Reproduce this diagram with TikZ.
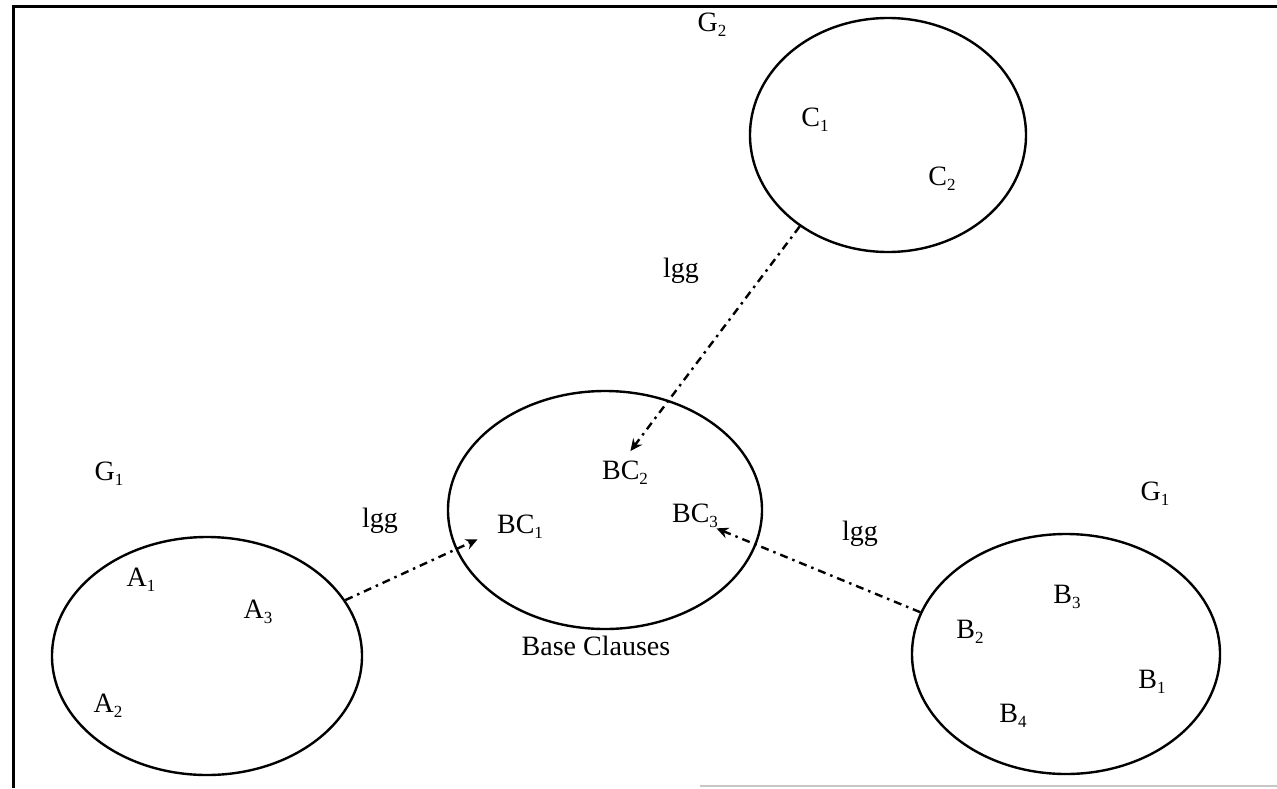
\documentclass[tikz,border=0pt]{standalone}
\usepackage{fontspec}
\setmainfont{Liberation Serif}
\usetikzlibrary{shapes.geometric,arrows.meta}
\newcommand\lowsub[1]{\raisebox{-5.5pt}{\fontsize{17}{17}\selectfont #1}}
\begin{document}
\begin{tikzpicture}[x=1pt,y=-1pt,
  lbl/.style={anchor=base,inner sep=2pt,font=\fontsize{28}{30}\selectfont},
  setshape/.style={draw,ellipse,line width=2.4pt,inner sep=0pt},
  lggarrow/.style={line width=2.4pt,dash pattern=on 8pt off 5pt on 2.5pt off 5pt,
    -{Stealth[length=12pt,width=11pt,inset=4pt]}},
  boxline/.style={line width=3pt},
  scanline/.style={line width=2pt,draw=gray!45}]
\useasboundingbox (0,0) rectangle (1277,788);
% frame
\coordinate (fa) at (13,788);
\coordinate (fb) at (13,6);
\coordinate (fc) at (1277,6);
\draw[boxline] (fa) -- (fb) -- (fc);
\coordinate (sa) at (700,786);
\coordinate (sb) at (1277,786);
\draw[scanline] (sa) -- (sb);
% sets
\node[setshape,minimum width=276pt,minimum height=234pt] (g2) at (888,135) {};
\node[setshape,minimum width=314pt,minimum height=238pt] (base) at (605,510) {};
\node[setshape,minimum width=310pt,minimum height=238pt] (ga) at (207,656) {};
\node[setshape,minimum width=308pt,minimum height=240pt] (gb) at (1066,654) {};
% labels
\node[lbl] (lg2) at (712,31) {G\lowsub{2}};
\node[lbl] (c1) at (815,126) {C\lowsub{1}};
\node[lbl] (c2) at (942,185) {C\lowsub{2}};
\node[lbl] (lgg1) at (681,277) {lgg};
\node[lbl] (lgg2) at (380,527) {lgg};
\node[lbl] (lgg3) at (860,540) {lgg};
\node[lbl] (bc2) at (625,479) {BC\lowsub{2}};
\node[lbl] (bc1) at (520,533) {BC\lowsub{1}};
\node[lbl] (bc3) at (695,522) {BC\lowsub{3}};
\node[lbl] (bcl) at (596,655) {Base Clauses};
\node[lbl] (lg1a) at (109,480) {G\lowsub{1}};
\node[lbl] (a1) at (141,586) {A\lowsub{1}};
\node[lbl] (a3) at (258,618) {A\lowsub{3}};
\node[lbl] (a2) at (108,712) {A\lowsub{2}};
\node[lbl] (lg1b) at (1155,500) {G\lowsub{1}};
\node[lbl] (b3) at (1067,603) {B\lowsub{3}};
\node[lbl] (b2) at (970,638) {B\lowsub{2}};
\node[lbl] (b1) at (1152,688) {B\lowsub{1}};
\node[lbl] (b4) at (1013,722) {B\lowsub{4}};
% connectors
\draw[lggarrow,shorten >=9pt] (g2.226) -- (bc2.north);
\draw[lggarrow,shorten >=19pt] (ga.22.4) -- (bc1.191);
\draw[lggarrow,shorten >=-4pt] (gb.164.6) -- (bc3.south east);
\end{tikzpicture}
\end{document}
